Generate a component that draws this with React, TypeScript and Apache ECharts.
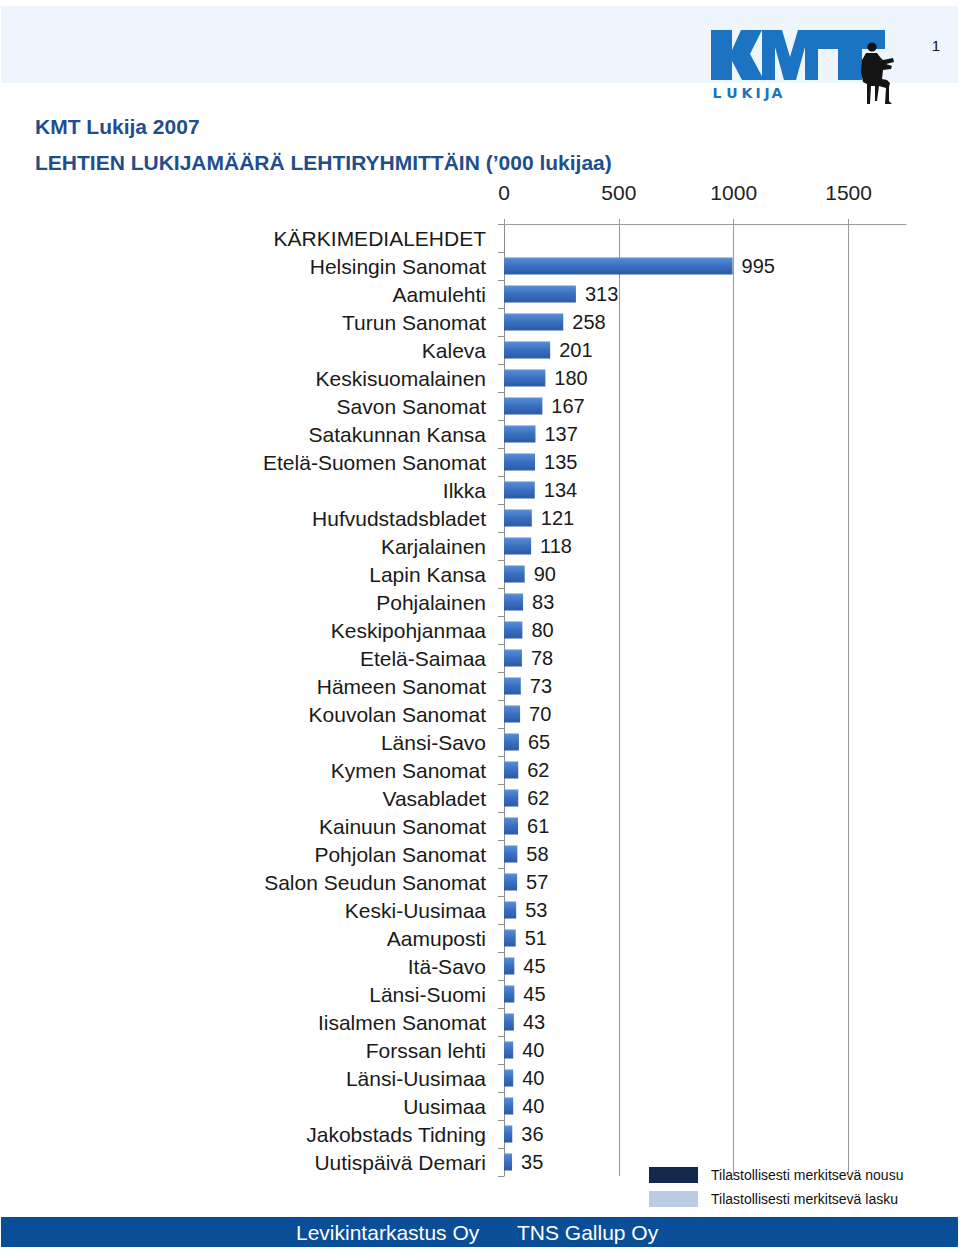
import React, { useEffect, useRef } from "react";
import * as echarts from "echarts";

const categories = [
  "KÄRKIMEDIALEHDET",
  "Helsingin Sanomat",
  "Aamulehti",
  "Turun Sanomat",
  "Kaleva",
  "Keskisuomalainen",
  "Savon Sanomat",
  "Satakunnan Kansa",
  "Etelä-Suomen Sanomat",
  "Ilkka",
  "Hufvudstadsbladet",
  "Karjalainen",
  "Lapin Kansa",
  "Pohjalainen",
  "Keskipohjanmaa",
  "Etelä-Saimaa",
  "Hämeen Sanomat",
  "Kouvolan Sanomat",
  "Länsi-Savo",
  "Kymen Sanomat",
  "Vasabladet",
  "Kainuun Sanomat",
  "Pohjolan Sanomat",
  "Salon Seudun Sanomat",
  "Keski-Uusimaa",
  "Aamuposti",
  "Itä-Savo",
  "Länsi-Suomi",
  "Iisalmen Sanomat",
  "Forssan lehti",
  "Länsi-Uusimaa",
  "Uusimaa",
  "Jakobstads Tidning",
  "Uutispäivä Demari",
];

// first category is a group header without a bar
const values = [
  995, 313, 258, 201, 180, 167, 137, 135, 134, 121, 118, 90, 83, 80, 78, 73, 70,
  65, 62, 62, 61, 58, 57, 53, 51, 45, 45, 43, 40, 40, 40, 36, 35,
];

const xTickValues = [0, 500, 1000, 1500];

const legendItems = [
  { name: "Tilastollisesti merkitsevä nousu", color: "#13284a" },
  { name: "Tilastollisesti merkitsevä lasku", color: "#b8cce4" },
];

const FONT = "'Liberation Sans', Arial, Helvetica, sans-serif";
const LOGO_BLUE = "#1b73c1";

const READER_PATH =
  "M866,53 L877,53 L880,57 L883,60 L893,58 L894,62 L886,64 L892,66 L891,69 L883,70 L882,79 L887,80 L890,83 L889,87 L889,101 L892,104 L885,104 L886,88 L879,86 L877,101 L875,101 L875,86 L871,86 L870,104 L867,104 L867,84 L863,82 L861,72 L862,60 Z";

echarts.graphic.registerShape(
  "reader",
  echarts.graphic.extendPath(READER_PATH, {}) as any
);

export default function App() {
  const ref = useRef<HTMLDivElement>(null);

  useEffect(() => {
    document.body.style.margin = "0";
    const chart = echarts.init(ref.current!, null, { renderer: "svg" });

    const lukija = "LUKIJA".split("");
    const lukijaX = [717, 732, 747, 758, 767, 777];

    const graphic: any[] = [
      {
        type: "rect",
        shape: { x: 1, y: 6, width: 957, height: 77 },
        style: { fill: "#eef5fd" },
        z: -10,
      },
      {
        type: "polygon",
        shape: {
          points: [
            [711, 30], [732, 30], [732, 50], [741, 30], [762, 30], [750, 54],
            [764, 80], [742, 80], [732, 61], [732, 80], [711, 80],
          ],
        },
        style: { fill: LOGO_BLUE },
      },
      {
        type: "polygon",
        shape: {
          points: [
            [762, 30], [782, 30], [790, 57], [798, 30], [818, 30], [818, 80],
            [805, 80], [805, 47], [796, 80], [784, 80], [775, 47], [775, 80],
            [762, 80],
          ],
        },
        style: { fill: LOGO_BLUE },
      },
      {
        type: "polygon",
        shape: {
          points: [
            [818, 30], [885, 30], [885, 49], [862, 49], [862, 80], [838, 80],
            [838, 49], [818, 49],
          ],
        },
        style: { fill: LOGO_BLUE },
      },
      ...lukija.map((ch, i) => ({
        type: "text",
        x: lukijaX[i],
        y: 93,
        style: {
          text: ch,
          fill: LOGO_BLUE,
          font: `900 14px 'DejaVu Sans', ${FONT}`,
          textAlign: "center",
          textVerticalAlign: "middle",
        },
      })),
      {
        type: "reader",
        x: 0,
        y: 0,
        style: { fill: "#141414" },
      },
      {
        type: "circle",
        shape: { cx: 872, cy: 47, r: 4.6 },
        style: { fill: "#141414" },
      },
      {
        type: "text",
        x: 936,
        y: 45,
        style: {
          text: "1",
          fill: "#111",
          font: `15px ${FONT}`,
          textAlign: "center",
          textVerticalAlign: "middle",
        },
      },
      {
        type: "text",
        x: 35,
        y: 126,
        style: {
          text: "KMT Lukija 2007",
          fill: "#1f4e8c",
          font: `bold 21px ${FONT}`,
          textAlign: "left",
          textVerticalAlign: "middle",
        },
      },
      {
        type: "text",
        x: 35,
        y: 162,
        style: {
          text: "LEHTIEN LUKIJAMÄÄRÄ LEHTIRYHMITTÄIN (’000 lukijaa)",
          fill: "#1f4e8c",
          font: `bold 21px ${FONT}`,
          textAlign: "left",
          textVerticalAlign: "middle",
        },
      },
      ...legendItems.flatMap((item, i) => [
        {
          type: "rect",
          shape: { x: 649, y: 1167 + i * 24, width: 49, height: 16 },
          style: { fill: item.color },
        },
        {
          type: "text",
          x: 711,
          y: 1175 + i * 24,
          style: {
            text: item.name,
            fill: "#111",
            font: `14px ${FONT}`,
            textAlign: "left",
            textVerticalAlign: "middle",
          },
        },
      ]),
      {
        type: "rect",
        shape: { x: 1, y: 1217, width: 957, height: 30 },
        style: { fill: "#0a4e98" },
      },
      {
        type: "text",
        x: 296,
        y: 1232,
        style: {
          text: "Levikintarkastus Oy",
          fill: "#ffffff",
          font: `21px ${FONT}`,
          textAlign: "left",
          textVerticalAlign: "middle",
        },
      },
      {
        type: "text",
        x: 517,
        y: 1232,
        style: {
          text: "TNS Gallup Oy",
          fill: "#ffffff",
          font: `21px ${FONT}`,
          textAlign: "left",
          textVerticalAlign: "middle",
        },
      },
    ];

    chart.setOption({
      animation: false,
      backgroundColor: "#ffffff",
      grid: { left: 504, right: 54, top: 224, bottom: 77, containLabel: false },
      xAxis: {
        type: "value",
        position: "top",
        min: 0,
        max: 1750,
        interval: 500,
        axisLine: { show: true, lineStyle: { color: "#9a9a9a", width: 1 } },
        axisTick: {
          show: true,
          length: 5,
          customValues: xTickValues,
          lineStyle: { color: "#9a9a9a" },
        },
        axisLabel: {
          customValues: xTickValues,
          formatter: (v: number) => String(v),
          fontSize: 21,
          fontFamily: FONT,
          color: "#222",
          margin: 21,
        },
        splitLine: {
          show: true,
          lineStyle: { color: "#9a9a9a", width: 1 },
        },
      },
      yAxis: {
        type: "category",
        data: categories,
        inverse: true,
        axisLine: { show: true, lineStyle: { color: "#8c8c8c", width: 1 } },
        axisTick: { show: true, length: 6, lineStyle: { color: "#8c8c8c" } },
        axisLabel: {
          fontSize: 21,
          fontFamily: FONT,
          color: "#1a1a1a",
          margin: 18,
        },
        splitLine: { show: false },
      },
      series: [
        {
          type: "bar",
          data: ["-", ...values],
          barWidth: 17,
          itemStyle: {
            color: new echarts.graphic.LinearGradient(0, 0, 0, 1, [
              { offset: 0, color: "#5a8fd8" },
              { offset: 0.5, color: "#3a6fc0" },
              { offset: 1, color: "#2b5aa3" },
            ]),
          },
          label: {
            show: true,
            position: "right",
            distance: 9,
            fontSize: 20,
            fontFamily: FONT,
            color: "#1a1a1a",
          },
        },
      ],
      graphic,
    });

    return () => chart.dispose();
  }, []);

  return <div ref={ref} style={{ width: 960, height: 1253 }} />;
}
